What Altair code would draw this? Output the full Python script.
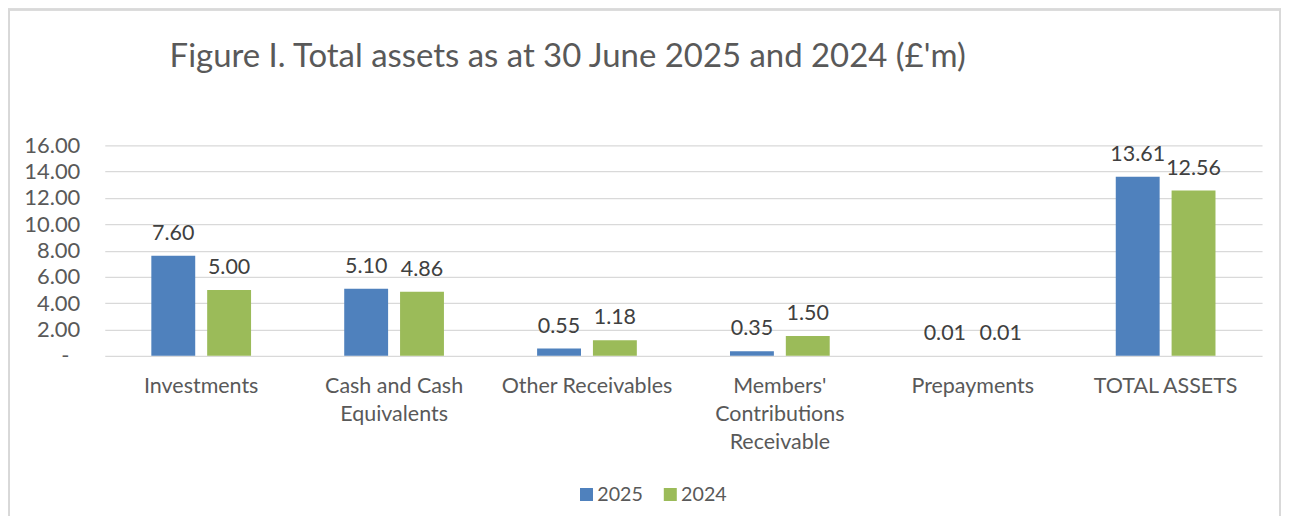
import altair as alt
import pandas as pd

categories = ["Investments", "Cash and Cash|Equivalents", "Other Receivables",
              "Members'|Contributions|Receivable", "Prepayments", "TOTAL ASSETS"]
series = ["2025", "2024"]
values_2025 = [7.60, 5.10, 0.55, 0.35, 0.01, 13.61]
values_2024 = [5.00, 4.86, 1.18, 1.50, 0.01, 12.56]
y_ticks = [0, 2, 4, 6, 8, 10, 12, 14, 16]
colors = ["#4f81bd", "#9bbb59"]

rows = []
for c, a, b in zip(categories, values_2025, values_2024):
    rows.append({"category": c, "year": "2025", "value": a})
    rows.append({"category": c, "year": "2024", "value": b})
df = pd.DataFrame(rows)

FONT = "Lato"
TXT = "#595959"

x_enc = alt.X("category:N", sort=categories,
              scale=alt.Scale(paddingInner=0.483, paddingOuter=0.2414),
              axis=alt.Axis(title=None, labelAngle=0, labelExpr="split(datum.label, '|')",
                            labelFontSize=21.5, labelColor=TXT, labelFont=FONT,
                            labelPadding=20, labelLineHeight=28, ticks=False, domain=False,
                            grid=False, labelBaseline="top"))
xoff = alt.XOffset("year:N", sort=series, scale=alt.Scale(paddingInner=0.214, paddingOuter=0))
y_enc = alt.Y("value:Q", scale=alt.Scale(domain=[0, 16], nice=False),
              axis=alt.Axis(title=None, values=y_ticks, labelOverlap=False, tickCount=20,
                            labelExpr="datum.value == 0 ? '-\u2002\u200b' : format(datum.value, '.2f')",
                            labelFontSize=22, labelColor=TXT, labelFont=FONT, labelPadding=25,
                            ticks=False, domain=False, gridColor="#d9d9d9", gridWidth=1.3))

bars = alt.Chart(df).mark_bar().encode(
    x=x_enc,
    xOffset=xoff,
    y=y_enc,
    color=alt.Color("year:N", sort=series, scale=alt.Scale(domain=series, range=colors),
                    legend=alt.Legend(title=None, orient="none", legendX=473, legendY=340,
                                      direction="horizontal", symbolType="square",
                                      symbolSize=170, symbolStrokeWidth=0, labelFontSize=19.7,
                                      labelFont=FONT, labelColor=TXT, labelOffset=1,
                                      columnPadding=17)),
)

labels = alt.Chart(df).mark_text(baseline="alphabetic", dy=-16, fontSize=21.5, font=FONT,
                                 color="#404040").encode(
    x=x_enc,
    xOffset=xoff,
    y=y_enc,
    text=alt.Text("value:Q", format=".2f"),
)

frame = alt.Chart(df).mark_rect(fill=None, stroke="#d9d9d9", strokeWidth=1.5).encode(
    x=alt.value(-96), x2=alt.value(1178), y=alt.value(-136), y2=alt.value(373))

chart = alt.layer(frame, bars, labels).properties(
    width=1160, height=211,
    padding={"left": 97, "top": 137, "right": 20, "bottom": 160},
    autosize=alt.AutoSizeParams(type="none"),
    title=alt.TitleParams("Figure I. Total assets as at 30 June 2025 and 2024 (£'m)",
                          anchor="start", frame="group", dx=65, offset=0, dy=65,
                          fontSize=33, font=FONT, fontWeight="normal", color=TXT),
).configure(background="white").configure_view(strokeWidth=0)

chart.save("out.html", embed_options={"renderer": "svg", "actions": False})
